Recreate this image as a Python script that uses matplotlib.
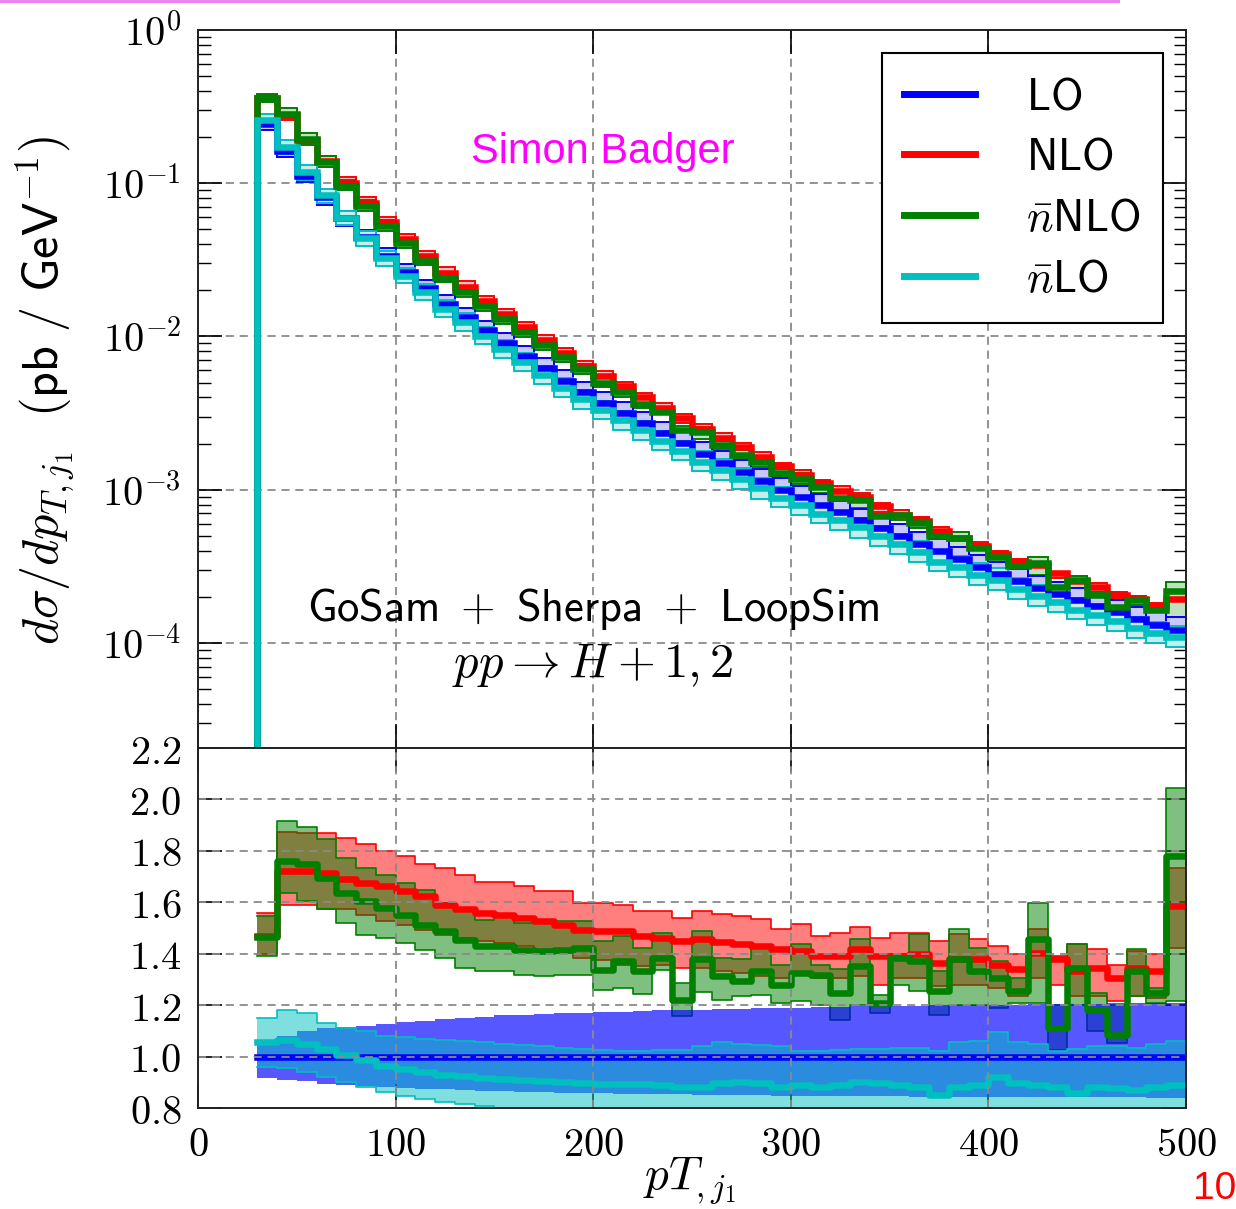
import numpy as np
import matplotlib
matplotlib.use("Agg")
import matplotlib.pyplot as plt
from matplotlib.ticker import FixedLocator, FuncFormatter, NullLocator
from matplotlib.lines import Line2D
from matplotlib.patches import Rectangle

plt.rcParams['mathtext.fontset'] = 'cm'

# ---------------- data ----------------
bin_edges = [30, 40, 50, 60, 70, 80, 90, 100, 110, 120, 130, 140, 150, 160, 170, 180,
             190, 200, 210, 220, 230, 240, 250, 260, 270, 280, 290, 300, 310, 320, 330,
             340, 350, 360, 370, 380, 390, 400, 410, 420, 430, 440, 450, 460, 470, 480,
             490, 500]

# LO differential cross section (pb/GeV)
lo_xsec = [0.245, 0.162, 0.112, 0.081, 0.0590, 0.0445, 0.0335, 0.0262, 0.0206, 0.0163,
           0.0134, 0.0110, 0.00905, 0.00750, 0.00620, 0.00515, 0.00432, 0.00370, 0.00318, 0.00274,
           0.00234, 0.00202, 0.00172, 0.00150, 0.00131, 0.00114, 0.00100, 0.00089, 0.00079, 0.00071,
           0.00063, 0.00056, 0.000495, 0.000445, 0.000395, 0.000352, 0.000312, 0.000280, 0.000252, 0.000228,
           0.000208, 0.000190, 0.000173, 0.000158, 0.000143, 0.000131, 0.000122]

# ratios to LO central
lo_up = [1.06, 1.08, 1.10, 1.11, 1.115, 1.12, 1.125, 1.135, 1.14, 1.145,
         1.15, 1.155, 1.16, 1.162, 1.165, 1.168, 1.17, 1.172, 1.175, 1.177,
         1.18, 1.18, 1.182, 1.184, 1.186, 1.188, 1.19, 1.19, 1.192, 1.194,
         1.195, 1.196, 1.197, 1.198, 1.199, 1.20, 1.20, 1.201, 1.202, 1.203,
         1.204, 1.205, 1.206, 1.207, 1.208, 1.209, 1.21]
lo_dn = [0.915, 0.91, 0.905, 0.895, 0.888, 0.884, 0.88, 0.877, 0.875, 0.872,
         0.87, 0.868, 0.866, 0.864, 0.862, 0.86, 0.858, 0.857, 0.856, 0.855,
         0.854, 0.853, 0.852, 0.851, 0.85, 0.849, 0.848, 0.847, 0.846, 0.846,
         0.845, 0.845, 0.845, 0.844, 0.844, 0.844, 0.843, 0.843, 0.843, 0.842,
         0.842, 0.842, 0.841, 0.841, 0.841, 0.840, 0.840]

nlo_mid = [1.47, 1.72, 1.72, 1.715, 1.689, 1.676, 1.663, 1.643, 1.624, 1.59,
           1.572, 1.559, 1.552, 1.539, 1.526, 1.513, 1.494, 1.487, 1.487, 1.468,
           1.461, 1.449, 1.456, 1.447, 1.439, 1.43, 1.42, 1.41, 1.39, 1.39,
           1.417, 1.39, 1.39, 1.397, 1.365, 1.378, 1.378, 1.358, 1.339, 1.404,
           1.378, 1.332, 1.345, 1.306, 1.345, 1.332, 1.586]
nlo_up = [1.56, 1.873, 1.871, 1.87, 1.851, 1.825, 1.80, 1.78, 1.75, 1.734,
          1.708, 1.68, 1.68, 1.663, 1.643, 1.643, 1.598, 1.598, 1.591, 1.565,
          1.568, 1.54, 1.566, 1.553, 1.547, 1.534, 1.495, 1.514, 1.469, 1.482,
          1.504, 1.462, 1.482, 1.482, 1.449, 1.475, 1.456, 1.43, 1.397, 1.495,
          1.39, 1.436, 1.417, 1.358, 1.41, 1.40, 1.735]
nlo_dn = [1.40, 1.59, 1.59, 1.572, 1.572, 1.552, 1.526, 1.513, 1.494, 1.474,
          1.461, 1.448, 1.442, 1.429, 1.409, 1.403, 1.383, 1.377, 1.357, 1.351,
          1.357, 1.345, 1.345, 1.332, 1.326, 1.313, 1.306, 1.319, 1.306, 1.306,
          1.313, 1.28, 1.306, 1.306, 1.273, 1.28, 1.28, 1.267, 1.234, 1.306,
          1.28, 1.234, 1.234, 1.215, 1.234, 1.228, 1.423]

nbnlo_mid = [1.465, 1.76, 1.747, 1.695, 1.637, 1.604, 1.578, 1.552, 1.513, 1.487,
             1.455, 1.429, 1.429, 1.416, 1.409, 1.416, 1.422, 1.338, 1.37, 1.331,
             1.383, 1.22, 1.378, 1.313, 1.293, 1.332, 1.28, 1.326, 1.319, 1.247,
             1.352, 1.208, 1.384, 1.371, 1.254, 1.378, 1.332, 1.306, 1.254, 1.456,
             1.11, 1.345, 1.182, 1.085, 1.332, 1.247, 1.78]
nbnlo_up = [1.546, 1.916, 1.893, 1.845, 1.773, 1.734, 1.708, 1.676, 1.646, 1.598,
            1.565, 1.533, 1.555, 1.52, 1.524, 1.526, 1.529, 1.448, 1.468, 1.422,
            1.481, 1.286, 1.488, 1.384, 1.378, 1.423, 1.358, 1.436, 1.358, 1.339,
            1.456, 1.241, 1.40, 1.475, 1.332, 1.495, 1.423, 1.371, 1.306, 1.596,
            1.202, 1.436, 1.247, 1.2, 1.417, 1.267, 2.046]
nbnlo_dn = [1.39, 1.637, 1.604, 1.572, 1.52, 1.474, 1.461, 1.442, 1.416, 1.383,
            1.344, 1.331, 1.331, 1.316, 1.312, 1.316, 1.316, 1.26, 1.266, 1.243,
            1.335, 1.156, 1.25, 1.221, 1.234, 1.24, 1.208, 1.215, 1.2, 1.143,
            1.2, 1.169, 1.28, 1.254, 1.163, 1.2, 1.2, 1.189, 1.208, 1.208,
            1.026, 1.2, 1.098, 1.052, 1.234, 1.208, 1.215]

nblo_mid = [1.055, 1.065, 1.05, 1.03, 1.005, 0.985, 0.965, 0.95, 0.94, 0.93,
            0.925, 0.918, 0.912, 0.91, 0.905, 0.90, 0.898, 0.895, 0.895, 0.893,
            0.888, 0.883, 0.883, 0.896, 0.902, 0.896, 0.883, 0.889, 0.883, 0.889,
            0.902, 0.896, 0.889, 0.883, 0.85, 0.883, 0.889, 0.922, 0.896, 0.889,
            0.883, 0.857, 0.883, 0.876, 0.87, 0.883, 0.889]
nblo_up = [1.15, 1.182, 1.169, 1.13, 1.11, 1.10, 1.08, 1.075, 1.07, 1.065,
           1.06, 1.055, 1.05, 1.045, 1.04, 1.035, 1.03, 1.025, 1.02, 1.02,
           1.025, 1.025, 1.04, 1.058, 1.05, 1.045, 1.04, 1.02, 1.02, 1.025,
           1.03, 1.03, 1.035, 1.035, 1.02, 1.055, 1.06, 1.095, 1.055, 1.05,
           1.02, 1.03, 1.04, 1.04, 1.035, 1.05, 1.06]
nblo_dn = [0.96, 0.955, 0.94, 0.92, 0.90, 0.88, 0.862, 0.846, 0.835, 0.825,
           0.815, 0.806, 0.798, 0.792, 0.787, 0.783, 0.78, 0.777, 0.775, 0.773,
           0.77, 0.768, 0.767, 0.77, 0.772, 0.768, 0.765, 0.765, 0.764, 0.766,
           0.77, 0.768, 0.765, 0.763, 0.745, 0.762, 0.765, 0.79, 0.77, 0.765,
           0.76, 0.75, 0.76, 0.758, 0.755, 0.76, 0.765]

series_labels = [r"$\mathsf{LO}$", r"$\mathsf{NLO}$", r"$\bar{n}\mathsf{NLO}$", r"$\bar{n}\mathsf{LO}$"]
x_ticks = [0, 100, 200, 300, 400, 500]
ratio_ticks = [0.8, 1.0, 1.2, 1.4, 1.6, 1.8, 2.0, 2.2]
top_ticks = [1e0, 1e-1, 1e-2, 1e-3, 1e-4]

# ---------------- styling ----------------
C_LO, C_NLO, C_NBNLO, C_NBLO = "#0000ff", "#ff0000", "#008000", "#00bfbf"
LIGHT = {C_LO: "#c8c8ff", C_NLO: "#ffc0c0", C_NBNLO: "#c0e0c0", C_NBLO: "#c4eeee"}
LW = 4.7
TICKFS = 29
grid_kw = dict(color="#8a8a8a", linewidth=1.3, linestyle=(0, (4.5, 3.2)))

W, H = 1236, 1209
fig = plt.figure(figsize=(W / 100, H / 100), dpi=100)

L, R = 198, 1186
T_TOP, T_BOT, B_BOT = 30, 748, 1108
ax = fig.add_axes([L / W, 1 - T_BOT / H, (R - L) / W, (T_BOT - T_TOP) / H])
axr = fig.add_axes([L / W, 1 - B_BOT / H, (R - L) / W, (B_BOT - T_BOT) / H])

edges = np.array(bin_edges, float)
lo = np.array(lo_xsec)
widths = np.diff(edges)
xs_step = np.repeat(edges, 2)[1:-1]
ymin_top = 10 ** -4.686


def top_line(vals, color):
    xs = np.repeat(edges, 2)[:-1]
    ys = np.concatenate([[ymin_top * 1e-3], np.repeat(vals, 2)])
    ax.plot(xs, ys, color=color, lw=LW, solid_joinstyle="miter", zorder=5)


def top_band(dn, up, color, z):
    ax.bar(edges[:-1], up - dn, bottom=dn, width=widths, align="edge",
           facecolor=LIGHT[color], edgecolor=color, linewidth=1.4, zorder=z)


# ---- top panel ----
ax.set_yscale("log")
ax.set_xlim(0, 500)
ax.set_ylim(ymin_top, 1.0)

top_band(lo * np.array(nlo_dn), lo * np.array(nlo_up), C_NLO, 2)
top_band(lo * np.array(nbnlo_dn), lo * np.array(nbnlo_up), C_NBNLO, 2.1)
top_band(lo * np.array(lo_dn), lo * np.array(lo_up), C_LO, 2.2)
top_band(lo * np.array(nblo_dn), lo * np.array(nblo_up), C_NBLO, 2.3)
top_line(lo * np.array(nlo_mid), C_NLO)
top_line(lo, C_LO)
top_line(lo * np.array(nbnlo_mid), C_NBNLO)
top_line(lo * np.array(nblo_mid), C_NBLO)

for xv in x_ticks[1:-1]:
    ax.axvline(xv, zorder=1, **grid_kw)
for yv in top_ticks[1:]:
    ax.axhline(yv, zorder=1, **grid_kw)

ax.yaxis.set_major_locator(FixedLocator(top_ticks))
minors = [m * 10.0 ** e for e in range(-5, 0) for m in range(2, 10)]
ax.yaxis.set_minor_locator(FixedLocator([v for v in minors if ymin_top < v < 1]))
ax.yaxis.set_major_formatter(FuncFormatter(lambda v, p: r"$10^{%d}$" % int(round(np.log10(v)))))
ax.xaxis.set_major_locator(FixedLocator(x_ticks))
ax.xaxis.set_minor_locator(NullLocator())
ax.tick_params(which="major", direction="in", length=17, width=1.2, top=True, right=True,
               labelsize=TICKFS, pad=12, labelbottom=False)
ax.tick_params(which="minor", direction="in", length=9, width=1.0, right=True)

handles = [Line2D([], [], color=c, lw=5) for c in (C_LO, C_NLO, C_NBNLO, C_NBLO)]
leg = ax.legend(handles, series_labels, loc="upper right",
                bbox_to_anchor=((1163 - L) / (R - L), 1 - (53 - T_TOP) / (T_BOT - T_TOP)),
                borderaxespad=0, fontsize=32, handlelength=1.6, handletextpad=1.15,
                borderpad=0.5, labelspacing=0.4, fancybox=False, framealpha=1,
                edgecolor="black")
leg.get_frame().set_linewidth(1.5)
leg.set_zorder(10)

ax.text(0.40, 0.193, r"$\mathsf{GoSam}\ +\ \mathsf{Sherpa}\ +\ \mathsf{LoopSim}$",
        transform=ax.transAxes, ha="center", va="center", fontsize=32)
ax.text(0.40, 0.115, r"$pp \to H + 1, 2$", transform=ax.transAxes,
        ha="center", va="center", fontsize=35)

# ---- ratio panel ----
axr.set_xlim(0, 500)
axr.set_ylim(0.8, 2.2)


def rband(dn, up, color, alpha, z):
    axr.fill_between(xs_step, np.repeat(dn, 2), np.repeat(up, 2), facecolor=color,
                     alpha=alpha, edgecolor="none", zorder=z)
    for arr in (dn, up):
        axr.plot(xs_step, np.repeat(arr, 2), color=color, lw=1.2, zorder=z + 0.05)


def rline(vals, color, z):
    axr.plot(xs_step, np.repeat(vals, 2), color=color, lw=LW, zorder=z)


rband(nlo_dn, nlo_up, C_NLO, 0.5, 2)
rband(nbnlo_dn, nbnlo_up, C_NBNLO, 0.5, 2.2)
axr.fill_between(xs_step, np.repeat(lo_dn, 2), np.repeat(lo_up, 2), facecolor=C_LO,
                 alpha=0.66, edgecolor="none", zorder=2.4)
rband(nblo_dn, nblo_up, C_NBLO, 0.5, 2.6)
rline(nlo_mid, C_NLO, 5)
rline(nbnlo_mid, C_NBNLO, 5.2)
rline(np.ones(len(lo_xsec)), C_LO, 5.4)
rline(nblo_mid, C_NBLO, 5.6)

for xv in x_ticks[1:-1]:
    axr.axvline(xv, zorder=6, **grid_kw)
for yv in ratio_ticks[1:-1]:
    axr.axhline(yv, zorder=6, **grid_kw)

axr.xaxis.set_major_locator(FixedLocator(x_ticks))
axr.yaxis.set_major_locator(FixedLocator(ratio_ticks))
axr.xaxis.set_major_formatter(FuncFormatter(lambda v, p: r"$%d$" % v))
axr.yaxis.set_major_formatter(FuncFormatter(lambda v, p: r"$%.1f$" % v))
axr.tick_params(which="major", direction="in", length=17, width=1.2, top=True, right=True,
                labelsize=TICKFS, pad=12)

for a in (ax, axr):
    for s in a.spines.values():
        s.set_linewidth(1.4)
        s.set_color("#222222")
        s.set_zorder(8)

# ---- labels and slide decorations ----
fig.text(45 / W, 1 - 390 / H,
         r"$d\sigma/dp_{T,j_1}\ \ \mathsf{(pb\ /\ GeV^{-1})}$",
         rotation=90, ha="center", va="center", fontsize=36)
fig.text(690 / W, 1 - 1190 / H, r"$pT_{,j_1}$", ha="center", va="baseline", fontsize=34)
fig.text(603 / W, 1 - 152 / H, "Simon Badger", color="#ff00ff", fontsize=30,
         family="Liberation Sans", ha="center", va="center")
fig.text(1193 / W, 1 - 1207 / H, "10", color="red", fontsize=28,
         family="Liberation Sans", ha="left", va="bottom")
fig.add_artist(Rectangle((0, 1 - 3 / H), 1120 / W, 3 / H, transform=fig.transFigure,
                         facecolor="#ee82ee", edgecolor="none"))

fig.savefig("out.png", dpi=100)
